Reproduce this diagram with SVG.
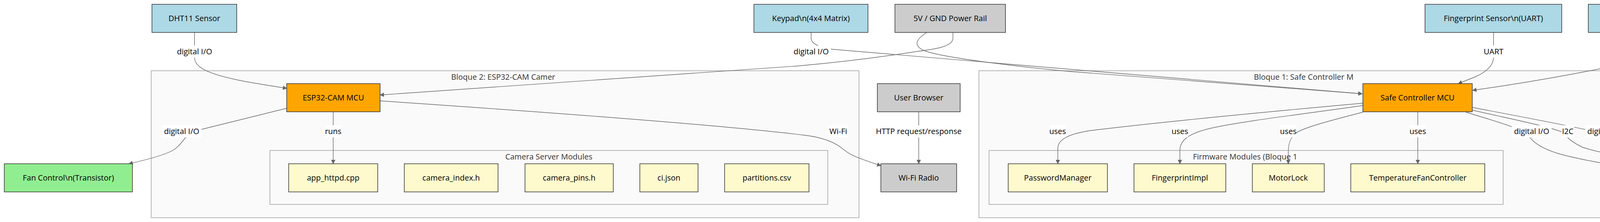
<svg xmlns="http://www.w3.org/2000/svg" width="5040" height="568" viewBox="0 0 5040 568">
<style>
text{font-family:"Open Sans","Liberation Sans",sans-serif;font-size:20px}
.node rect{stroke:#333;stroke-width:1.5}
.sensor rect{fill:#add8e6}
.gray rect{fill:#cccccc}
.mcu rect{fill:#ffa500}
.act rect{fill:#90ee90}
.mod rect{fill:#fffacd}
.node text{fill:#000;text-anchor:middle}
.cluster rect{fill:#fafafa;stroke:#999;stroke-width:1.4}
.cluster text{fill:#333}
.edge{fill:none;stroke:#666;stroke-width:1.4;marker-end:url(#arr)}
.lbl rect{fill:#fff}
.lbl text{fill:#000;text-anchor:middle}
</style>
<defs>
<marker id="arr" viewBox="0 0 10 10" refX="9" refY="5" markerWidth="11" markerHeight="11" markerUnits="userSpaceOnUse" orient="auto"><path d="M0,0 L10,5 L0,10 z" fill="#666"/></marker>
</defs>
<rect x="0" y="0" width="5040" height="568" fill="#fff"/>

<g id="clusters">
<g id="cluster-bloque2" class="cluster"><rect x="387" y="181" width="1812" height="376"/><text x="1155" y="204">Bloque 2: ESP32-CAM Camer</text></g>
<g id="cluster-camera" class="cluster"><rect x="691" y="385" width="1428" height="138"/><text x="1405" y="408" text-anchor="middle">Camera Server Modules</text></g>
<g id="cluster-bloque1" class="cluster"><rect x="2506" y="181" width="1680" height="376"/><text x="3210" y="204">Bloque 1: Safe Controller M</text></g>
<g id="cluster-firmware" class="cluster"><rect x="2532" y="385" width="1316" height="138"/><text x="3054" y="408">Firmware Modules (Bloque 1</text></g>
</g>

<g id="connectors">
<path class="edge" d="M498 83 L498 148 C499 172 530 188 610 205 C650 213 690 219 734 226"/>
<path class="edge" d="M734 277 L516 331 C490 338 485 345 475 352 C462 368 455 378 440 386 C415 399 370 410 330 419"/>
<path class="edge" d="M853 287 L853 419"/>
<path class="edge" d="M973 258 C1400 287 1850 320 2060 346 C2110 352 2140 365 2160 383 C2180 400 2215 410 2255 424"/>
<path class="edge" d="M2352 287 L2352 419"/>
<path class="edge" d="M2076.5 83 L2076.5 98 C2077 112 2095 120 2130 126 L3487 240"/>
<path class="edge" d="M2373 83 C2345 100 2335 118 2370 131 C2420 148 2600 170 2740 183 L3487 240"/>
<path class="edge" d="M2439.5 83 L2439.5 98 C2439 118 2400 125 2352 131 C2300 139 2200 155 2040 169 L973 243"/>
<path class="edge" d="M3823.5 83 L3823.5 148 C3822 170 3800 186 3778 196 L3733 214"/>
<path class="edge" d="M4158.5 83 L4158.5 148 C4152 165 4120 172 4060 183 C3960 202 3850 220 3770 231"/>
<path class="edge" d="M3489 264 C3300 281 3000 309 2800 333 C2740 341 2708 355 2708 380 L2708 419"/>
<path class="edge" d="M3489 270 C3350 290 3180 310 3100 328 C3040 342 3020.5 360 3020.5 385 L3020.5 419"/>
<path class="edge" d="M3489 287 C3420 305 3340 325 3318 340 C3302 352 3298 370 3298 390 L3298 419"/>
<path class="edge" d="M3629.5 287 L3629.5 419"/>
<path class="edge" d="M3753 287 C3800 302 3860 318 3895 334 C3910 342 3915 350 3920 356 C3935 372 3960 385 4000 396 C4080 416 4160 428 4234 437"/>
<path class="edge" d="M3770 282 C3870 305 3960 322 4005 340 C4010 350 4020 362 4052 377 C4120 400 4250 412 4312 418 C4380 425 4440 433 4493 439"/>
<path class="edge" d="M3770 275 C3880 296 4000 318 4075 335 C4090 342 4092 350 4100 354 C4160 375 4260 393 4400 406 C4550 420 4700 437 4824 445"/>
</g>

<g id="edge-labels">
<g class="lbl"><rect x="447" y="116.5" width="102" height="31"/><text x="498" y="139">digital I/O</text></g>
<g class="lbl"><rect x="2026" y="116.5" width="101" height="31"/><text x="2076.5" y="139">digital I/O</text></g>
<g class="lbl"><rect x="3797" y="116.5" width="53" height="31"/><text x="3823.5" y="139">UART</text></g>
<g class="lbl"><rect x="4108" y="116.5" width="101" height="31"/><text x="4158.5" y="139">digital I/O</text></g>
<g class="lbl"><rect x="414" y="320.5" width="102" height="31"/><text x="465" y="343">digital I/O</text></g>
<g class="lbl"><rect x="832" y="320.5" width="42" height="31"/><text x="853" y="343">runs</text></g>
<g class="lbl"><rect x="2120" y="320.5" width="52" height="31"/><text x="2146" y="343">Wi-Fi</text></g>
<g class="lbl"><rect x="2237" y="320.5" width="230" height="31"/><text x="2352" y="343">HTTP request/response</text></g>
<g class="lbl"><rect x="2686.5" y="320.5" width="42" height="31"/><text x="2707.5" y="343">uses</text></g>
<g class="lbl"><rect x="2999.5" y="320.5" width="42" height="31"/><text x="3020.5" y="343">uses</text></g>
<g class="lbl"><rect x="3277" y="320.5" width="42" height="31"/><text x="3298" y="343">uses</text></g>
<g class="lbl"><rect x="3608.5" y="320.5" width="42" height="31"/><text x="3629.5" y="343">uses</text></g>
<g class="lbl"><rect x="3870" y="320.5" width="102" height="31"/><text x="3921" y="343">digital I/O</text></g>
<g class="lbl"><rect x="3997" y="320.5" width="33" height="31"/><text x="4013.5" y="343">I2C</text></g>
<g class="lbl"><rect x="4058" y="320.5" width="101" height="31"/><text x="4108.5" y="343">digital I/O</text></g>
</g>

<g id="n-dht11" class="node sensor"><rect x="389" y="11" width="217" height="72"/><text x="497.5" y="54">DHT11 Sensor</text></g>
<g id="n-keypad" class="node sensor"><rect x="1930" y="11" width="292" height="72"/><text x="2076" y="54">Keypad\n(4x4 Matrix)</text></g>
<g id="n-power" class="node gray"><rect x="2291" y="11" width="283" height="72"/><text x="2432.5" y="54">5V / GND Power Rail</text></g>
<g id="n-finger" class="node sensor"><rect x="3648" y="11" width="350" height="72"/><text x="3823" y="54">Fingerprint Sensor\n(UART)</text></g>
<g id="n-pir" class="node sensor"><rect x="4066" y="11" width="184" height="72"/><text x="4158" y="54">PIR Sensor</text></g>

<g id="n-esp32" class="node mcu"><rect x="734" y="214" width="239" height="72"/><text x="853.5" y="257">ESP32-CAM MCU</text></g>
<g id="n-browser" class="node gray"><rect x="2246" y="214" width="212" height="72"/><text x="2352" y="257">User Browser</text></g>
<g id="n-safe" class="node mcu"><rect x="3489" y="214" width="280" height="72"/><text x="3629" y="257">Safe Controller MCU</text></g>

<g id="n-fan" class="node act"><rect x="11" y="419" width="328" height="72"/><text x="175" y="462">Fan Control\n(Transistor)</text></g>
<g id="n-apphttpd" class="node mod"><rect x="739" y="419" width="228" height="72"/><text x="853" y="462">app_httpd.cpp</text></g>
<g id="n-camindex" class="node mod"><rect x="1035" y="419" width="240" height="72"/><text x="1155" y="462">camera_index.h</text></g>
<g id="n-campins" class="node mod"><rect x="1344" y="419" width="226" height="72"/><text x="1457" y="462">camera_pins.h</text></g>
<g id="n-cijson" class="node mod"><rect x="1638" y="419" width="149" height="72"/><text x="1712.5" y="462">ci.json</text></g>
<g id="n-partitions" class="node mod"><rect x="1855" y="419" width="216" height="72"/><text x="1963" y="462">partitions.csv</text></g>
<g id="n-wifi" class="node gray"><rect x="2255" y="419" width="194" height="72"/><text x="2352" y="462">Wi-Fi Radio</text></g>
<g id="n-pwmgr" class="node mod"><rect x="2581" y="419" width="254" height="72"/><text x="2708" y="462">PasswordManager</text></g>
<g id="n-fpimpl" class="node mod"><rect x="2903" y="419" width="235" height="72"/><text x="3020.5" y="462">FingerprintImpl</text></g>
<g id="n-motorlockmod" class="node mod"><rect x="3206" y="419" width="184" height="72"/><text x="3298" y="462">MotorLock</text></g>
<g id="n-tfc" class="node mod"><rect x="3458" y="419" width="343" height="72"/><text x="3629.5" y="462">TemperatureFanController</text></g>
<g id="n-motorlock" class="node act"><rect x="4234" y="419" width="190" height="72"/><text x="4329" y="462">Motor Lock</text></g>
<g id="n-lcd" class="node act"><rect x="4493" y="419" width="263" height="72"/><text x="4624.5" y="462">LCD Display\n(I2C)</text></g>
<g id="n-buzzer" class="node act"><rect x="4824" y="419" width="205" height="72"/><text x="4926.5" y="462">Buzzer/LEDs</text></g>
</svg>
